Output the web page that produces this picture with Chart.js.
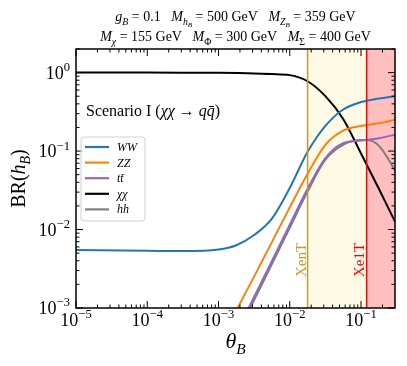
<!DOCTYPE html>
<html>
<head>
<meta charset="utf-8">
<script src="https://cdn.jsdelivr.net/npm/chart.js@4.4.1/dist/chart.umd.min.js"></script>
<style>
  html, body { margin: 0; padding: 0; background: #fff; }
</style>
</head>
<body>
<canvas id="myChart" width="407" height="366"></canvas>
<script>
// values (theta_B, BR)
const thetaWW = [1e-5, 1e-4, 3.16e-4, 1e-3, 0.00178, 0.00316, 0.00562, 0.01, 0.0178, 0.0316, 0.0562, 0.1, 0.178, 0.3];
const brWW    = [0.0055, 0.00537, 0.00531, 0.00556, 0.00631, 0.00851, 0.0138, 0.0339, 0.0977, 0.209, 0.339, 0.422, 0.468, 0.501];

const thetaZZ = [0.00126, 0.00186, 0.00316, 0.00562, 0.01, 0.0178, 0.0316, 0.0562, 0.1, 0.178, 0.3];
const brZZ    = [0.0005, 0.001, 0.00251, 0.00692, 0.0191, 0.0513, 0.120, 0.182, 0.209, 0.226, 0.251];

const thetaTT = [0.00178, 0.00316, 0.00562, 0.01, 0.0178, 0.0316, 0.0562, 0.1, 0.178, 0.3];
const brTT    = [0.00048, 0.00138, 0.00398, 0.0115, 0.0331, 0.0813, 0.126, 0.136, 0.146, 0.162];

const thetaChi = [1e-5, 1e-4, 3.16e-4, 1e-3, 0.00316, 0.00562, 0.01, 0.0178, 0.0316, 0.0562, 0.1, 0.178, 0.3];
const brChi    = [1.0, 1.0, 0.998, 0.993, 0.977, 0.959, 0.929, 0.776, 0.501, 0.257, 0.0933, 0.0331, 0.0126];

const thetaHH = [0.00178, 0.00316, 0.00562, 0.01, 0.0178, 0.0316, 0.0562, 0.1, 0.12, 0.178, 0.245, 0.3];
const brHH    = [0.000437, 0.00126, 0.00363, 0.0105, 0.0305, 0.0776, 0.120, 0.138, 0.138, 0.117, 0.0776, 0.056];

const seriesNames  = ['WW', 'ZZ', 'tt\u0304', '\u03c7\u03c7', 'hh'];
const seriesColors = ['#1f77b4', '#ff7f0e', '#9467bd', '#000000', '#7f7f7f'];

// exclusion limits on theta_B
const xenonNT = 0.0178;
const xenon1T = 0.12;

const xMin = 1e-5, xMax = 0.3;
const yMin = 1e-3, yMax = 2;
const xDecades = [-5, -4, -3, -2, -1];
const yDecades = [-3, -2, -1, 0];

const SERIF = '"Liberation Serif", "DejaVu Serif", serif';

// title pieces: [text, italic, size factor, shift in em]
const titleLine1 = [
  ['g', 1, 1, 0], ['B', 1, 0.7, 0.25], [' = 0.1   ', 0, 1, 0],
  ['M', 1, 1, 0], ['h', 1, 0.7, 0.25], ['B', 1, 0.5, 0.4], [' = 500 GeV   ', 0, 1, 0],
  ['M', 1, 1, 0], ['Z', 1, 0.7, 0.25], ['B', 1, 0.5, 0.4], [' = 359 GeV', 0, 1, 0]
];
const titleLine2 = [
  ['M', 1, 1, 0], ['\u03c7', 1, 0.7, 0.25], [' = 155 GeV   ', 0, 1, 0],
  ['M', 1, 1, 0], ['\u03a6', 0, 0.7, 0.25], [' = 300 GeV   ', 0, 1, 0],
  ['M', 1, 1, 0], ['\u03a3', 0, 0.7, 0.25], [' = 400 GeV', 0, 1, 0]
];
const yTitle = [['BR(', 0, 1, 0], ['h', 1, 1, 0], ['B', 1, 0.7, 0.25], [')', 0, 1, 0]];
const xTitle = [['\u03b8', 1, 1, 0], ['B', 1, 0.7, 0.25]];
const scenarioText = [['Scenario I (', 0, 1, 0], ['\u03c7\u03c7', 1, 1, 0], [' \u2192 ', 0, 1, 0], ['q', 1, 1, 0], ['q\u0304', 1, 1, 0], [')', 0, 1, 0]];

function pts(xs, ys) {
  return xs.map((t, i) => ({ x: t, y: ys[i] }));
}

function richWidth(ctx, segs, size) {
  let w = 0;
  segs.forEach(s => {
    ctx.font = (s[1] ? 'italic ' : '') + (size * s[2]) + 'px ' + SERIF;
    w += ctx.measureText(s[0]).width;
  });
  return w;
}

function drawRich(ctx, segs, x, y, size, align) {
  const w = richWidth(ctx, segs, size);
  let cx = align === 'center' ? x - w / 2 : (align === 'right' ? x - w : x);
  ctx.textBaseline = 'alphabetic';
  ctx.textAlign = 'left';
  segs.forEach(s => {
    ctx.font = (s[1] ? 'italic ' : '') + (size * s[2]) + 'px ' + SERIF;
    ctx.fillText(s[0], cx, y + s[3] * size);
    cx += ctx.measureText(s[0]).width;
  });
}

function powLabel(e) {
  return [['10', 0, 1, 0], [(e < 0 ? '\u2212' : '') + Math.abs(e), 0, 0.7, -0.42]];
}

const decorations = {
  id: 'decorations',
  beforeDatasetsDraw(chart) {
    const { ctx, chartArea: a, scales: { x } } = chart;
    const xa = x.getPixelForValue(xenonNT);
    const xb = x.getPixelForValue(xenon1T);
    ctx.save();
    ctx.fillStyle = 'rgba(255, 240, 180, 0.35)';
    ctx.fillRect(xa, a.top, xb - xa, a.bottom - a.top);
    ctx.fillStyle = 'rgba(255, 0, 0, 0.25)';
    ctx.fillRect(xb, a.top, a.right - xb, a.bottom - a.top);
    ctx.restore();
  },
  afterDatasetsDraw(chart) {
    const { ctx, chartArea: a, scales: { x, y } } = chart;
    const xa = x.getPixelForValue(xenonNT);
    const xb = x.getPixelForValue(xenon1T);
    ctx.save();
    ctx.lineWidth = 1.5;
    ctx.strokeStyle = '#c8982e';
    ctx.beginPath(); ctx.moveTo(xa, a.top); ctx.lineTo(xa, a.bottom); ctx.stroke();
    ctx.strokeStyle = '#ff0000';
    ctx.beginPath(); ctx.moveTo(xb, a.top); ctx.lineTo(xb, a.bottom); ctx.stroke();

    // rotated limit labels
    ctx.fillStyle = '#c8982e';
    ctx.save(); ctx.translate(xa - 2, 260); ctx.rotate(-Math.PI / 2);
    drawRich(ctx, [['XenT', 0, 1, 0]], 0, 0, 15, 'center'); ctx.restore();
    ctx.fillStyle = '#ff0000';
    ctx.save(); ctx.translate(xb - 3, 260); ctx.rotate(-Math.PI / 2);
    drawRich(ctx, [['Xe1T', 0, 1, 0]], 0, 0, 15, 'center'); ctx.restore();

    // frame
    ctx.strokeStyle = '#000';
    ctx.lineWidth = 1.5;
    ctx.strokeRect(a.left, a.top, a.right - a.left, a.bottom - a.top);

    // inward ticks on all four sides
    ctx.lineWidth = 1;
    const tick = (px, len, vertical) => {
      ctx.beginPath();
      if (vertical) {
        ctx.moveTo(px, a.bottom); ctx.lineTo(px, a.bottom - len);
        ctx.moveTo(px, a.top); ctx.lineTo(px, a.top + len);
      } else {
        ctx.moveTo(a.left, px); ctx.lineTo(a.left + len, px);
        ctx.moveTo(a.right, px); ctx.lineTo(a.right - len, px);
      }
      ctx.stroke();
    };
    for (let e = -6; e <= 0; e++) {
      for (let d = 1; d <= 9; d++) {
        const v = d * Math.pow(10, e);
        if (v >= xMin * 0.999 && v <= xMax) tick(x.getPixelForValue(v), d === 1 ? 7 : 3.5, true);
        if (v >= yMin * 0.999 && v <= yMax) tick(y.getPixelForValue(v), d === 1 ? 7 : 3.5, false);
      }
    }

    // tick labels
    ctx.fillStyle = '#000';
    xDecades.forEach(e => drawRich(ctx, powLabel(e), x.getPixelForValue(Math.pow(10, e)), a.bottom + 18, 18, 'center'));
    yDecades.forEach(e => drawRich(ctx, powLabel(e), a.left - 6, y.getPixelForValue(Math.pow(10, e)) + 6, 18, 'right'));

    // axis titles
    drawRich(ctx, xTitle, (a.left + a.right) / 2, 348, 22, 'center');
    ctx.save(); ctx.translate(25, (a.top + a.bottom) / 2); ctx.rotate(-Math.PI / 2);
    drawRich(ctx, yTitle, 0, 0, 20, 'center'); ctx.restore();

    // title
    drawRich(ctx, titleLine1, (a.left + a.right) / 2, 21, 14, 'center');
    drawRich(ctx, titleLine2, (a.left + a.right) / 2, 41, 14, 'center');

    // scenario annotation
    drawRich(ctx, scenarioText, 86, 116, 16, 'left');

    // legend box
    ctx.fillStyle = 'rgba(255,255,255,0.8)';
    ctx.strokeStyle = '#d0d0d0';
    ctx.lineWidth = 1;
    ctx.beginPath();
    ctx.roundRect(81, 137, 64, 84, 3);
    ctx.fill(); ctx.stroke();
    chart.data.datasets.forEach((ds, i) => {
      const ly = 147 + i * 15.6;
      ctx.strokeStyle = ds.borderColor;
      ctx.lineWidth = 2.2;
      ctx.beginPath(); ctx.moveTo(85, ly); ctx.lineTo(109, ly); ctx.stroke();
      ctx.fillStyle = '#000';
      drawRich(ctx, [[ds.label, 1, 1, 0]], 117, ly + 4, 12, 'left');
    });
    ctx.restore();
  }
};

const allX = [thetaWW, thetaZZ, thetaTT, thetaChi, thetaHH];
const allY = [brWW, brZZ, brTT, brChi, brHH];

const ctx = document.getElementById('myChart').getContext('2d');
const chart = new Chart(ctx, {
  type: 'line',
  data: {
    datasets: seriesNames.map((name, i) => ({
      label: name,
      data: pts(allX[i], allY[i]),
      borderColor: seriesColors[i],
      backgroundColor: seriesColors[i],
      borderWidth: 2,
      pointRadius: 0,
      fill: false,
      cubicInterpolationMode: 'monotone'
    }))
  },
  options: {
    responsive: false,
    animation: false,
    layout: { padding: { left: 76, top: 49, right: 12, bottom: 58 } },
    scales: {
      x: { type: 'logarithmic', min: xMin, max: xMax, display: false },
      y: { type: 'logarithmic', min: yMin, max: yMax, display: false }
    },
    plugins: {
      legend: { display: false },
      tooltip: { enabled: false }
    }
  },
  plugins: [decorations]
});
</script>
</body>
</html>
